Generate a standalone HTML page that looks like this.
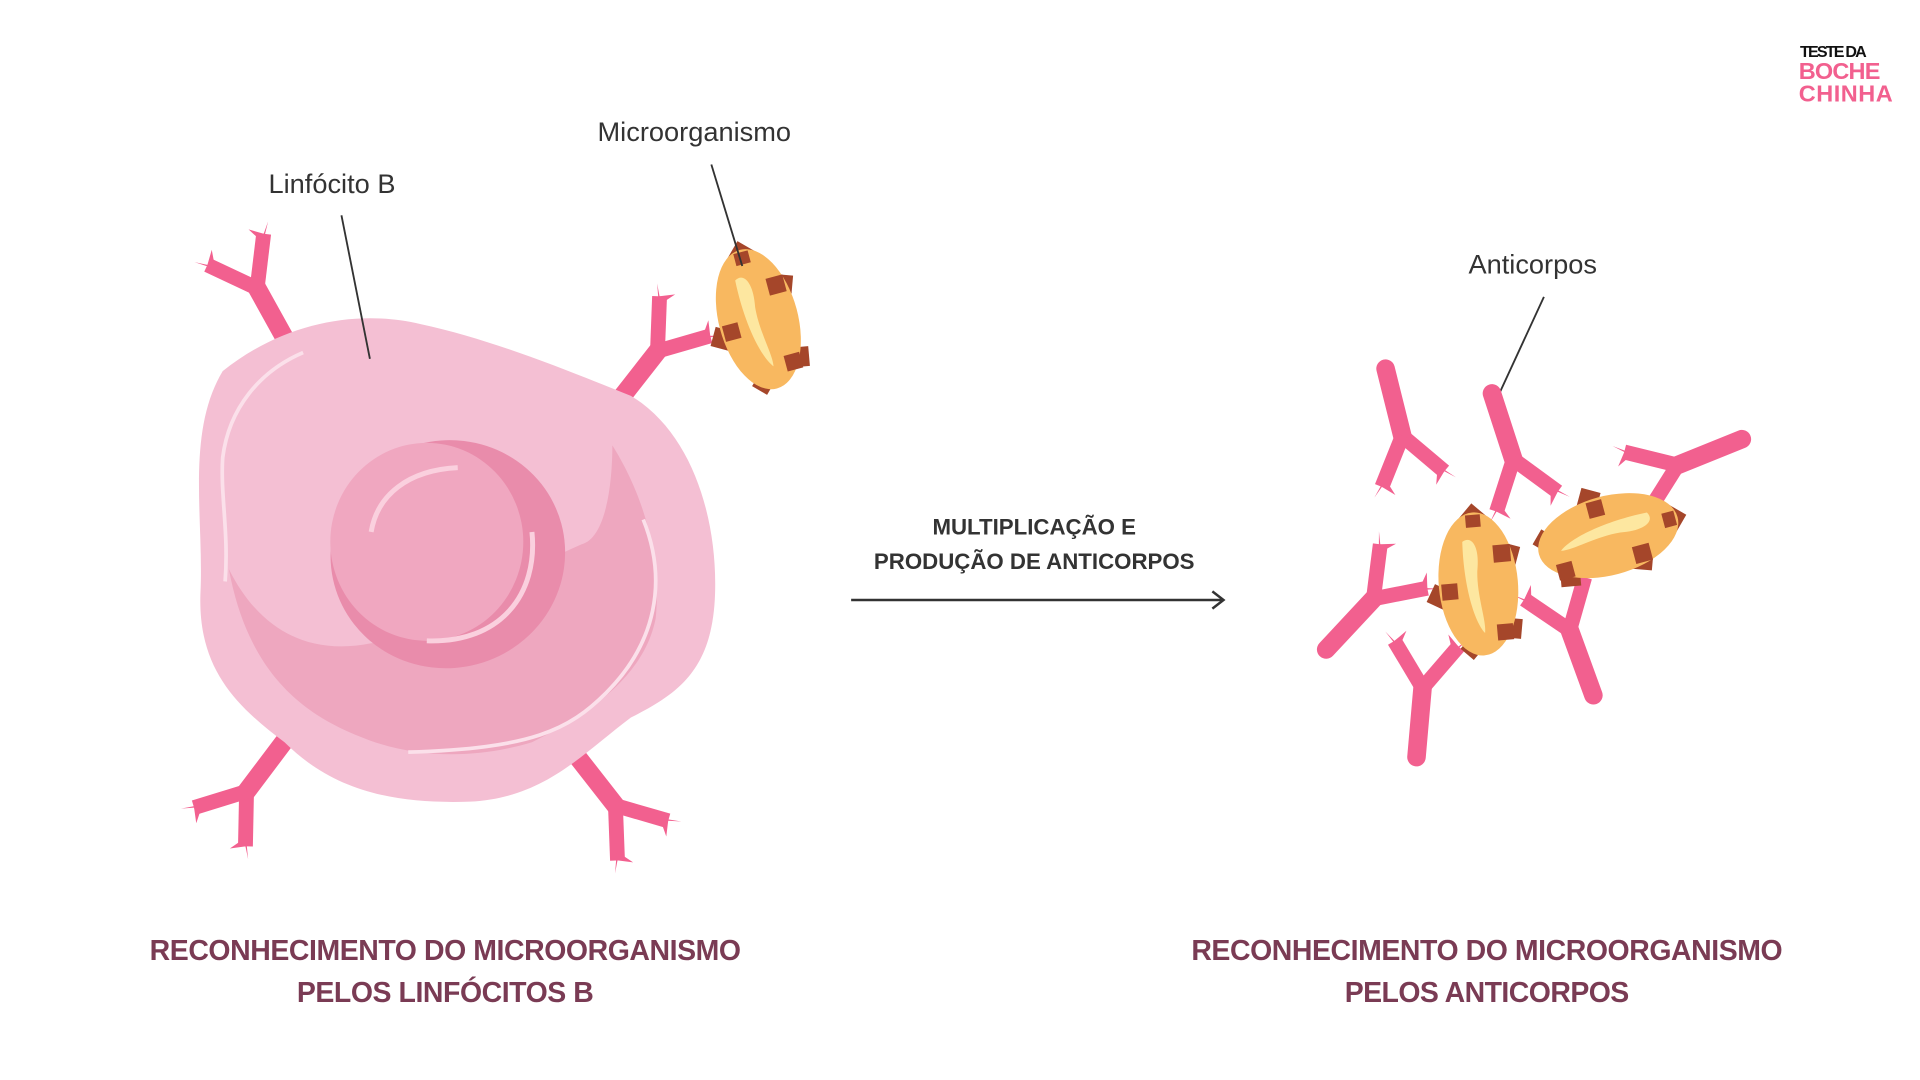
<!DOCTYPE html>
<html><head><meta charset="utf-8"><style>html,body{margin:0;padding:0;background:#fff}svg{display:block}</style></head>
<body>
<svg width="1920" height="1080" viewBox="0 0 1552 873" preserveAspectRatio="none" xmlns="http://www.w3.org/2000/svg" font-family="Liberation Sans, sans-serif">
<defs>
<g id="ab">
  <line x1="0" y1="0" x2="0" y2="-58" stroke="#f2608f" stroke-width="15" stroke-linecap="round"/>
  <line x1="0" y1="-56" x2="-26" y2="-92" stroke="#f2608f" stroke-width="12"/>
  <line x1="0" y1="-56" x2="26" y2="-92" stroke="#f2608f" stroke-width="12"/>
  <polygon points="-34,-99 -26,-92 -17,-101 -22,-86" fill="#f2608f"/>
  <polygon points="34,-99 26,-92 17,-101 22,-86" fill="#f2608f"/>
</g>
<g id="mic">
  <g fill="#a5462a">
    <rect x="-8" y="-62" width="16" height="16" transform="rotate(45 0 -54)"/>
    <rect x="18" y="-30" width="16" height="16" transform="rotate(20 26 -22)"/>
    <rect x="-40" y="0" width="16" height="16" transform="rotate(30 -32 8)"/>
    <rect x="16" y="30" width="16" height="16" transform="rotate(10 24 38)"/>
    <rect x="-16" y="44" width="14" height="14" transform="rotate(45 -9 51)"/>
  </g>
  <ellipse cx="0" cy="0" rx="32" ry="58" fill="#f8b860"/>
  <path d="M-10,-35 C-2,-40 4,-30 0,-10 C-2,10 4,30 2,40 C-6,30 -12,0 -10,-35Z" fill="#fde7a0"/>
  <g fill="#a5462a">
    <rect x="14" y="-30" width="14" height="14"/>
    <rect x="-30" y="-2" width="13" height="13"/>
    <rect x="12" y="34" width="13" height="13"/>
    <rect x="-6" y="-56" width="12" height="10"/>
  </g>
</g>
</defs>

<text x="1455" y="46" font-size="13" font-weight="bold" fill="#111" textLength="54">TESTE DA</text>
<text x="1454" y="64" font-size="19" font-weight="bold" fill="#f2608f" textLength="66">BOCHE</text>
<text x="1454" y="82" font-size="19" font-weight="bold" fill="#f2608f" textLength="76">CHINHA</text>

<use href="#ab" transform="translate(235,282) rotate(-29)"/>
<use href="#ab" transform="translate(497,328) rotate(38)"/>
<use href="#ab" transform="translate(233,595) rotate(217)"/>
<use href="#ab" transform="translate(463,607) rotate(142)"/>

<path d="M180,300 C230,260 290,250 340,262 C400,275 460,300 510,320 C560,350 580,420 578,480 C576,540 550,560 510,580 C470,610 440,645 380,648 C320,650 270,640 230,600 C190,570 160,540 162,480 C165,420 150,350 180,300Z" fill="#f4bfd3"/>
<path d="M185,460 C210,510 250,530 300,520 C350,515 400,470 470,440 C490,435 495,390 495,360 C520,400 535,450 530,500 C520,550 470,580 430,600 C380,615 330,612 290,595 C240,575 200,540 185,460Z" fill="#eea7bf"/>
<path d="M245,285 C210,300 185,330 180,370 C178,400 185,430 182,470" fill="none" stroke="#fbe0ea" stroke-width="3"/>
<path d="M520,420 C540,470 530,520 490,560 C460,590 430,605 330,608" fill="none" stroke="#fbe0ea" stroke-width="3"/>
<ellipse cx="362" cy="448" rx="95" ry="92" fill="#e98cab" transform="rotate(-15 362 448)"/>
<ellipse cx="345" cy="438" rx="78" ry="80" fill="#f0a7c0"/>
<path d="M300,430 C305,400 330,380 370,378" fill="none" stroke="#fad0de" stroke-width="4"/>
<path d="M430,430 C435,480 405,520 345,518" fill="none" stroke="#fad0de" stroke-width="4"/>

<use href="#mic" transform="translate(613,258) rotate(-15)"/>

<text x="217" y="156" font-size="22" fill="#333">Linfócito B</text>
<line x1="276" y1="174" x2="299" y2="290" stroke="#333" stroke-width="1.5"/>
<text x="483" y="114" font-size="22" fill="#333">Microorganismo</text>
<line x1="575" y1="133" x2="600" y2="215" stroke="#333" stroke-width="1.5"/>
<text x="1187" y="221" font-size="22" fill="#333">Anticorpos</text>
<line x1="1248" y1="240" x2="1212" y2="318" stroke="#333" stroke-width="1.5"/>

<text x="836" y="432" font-size="18" font-weight="bold" fill="#333" text-anchor="middle">MULTIPLICAÇÃO E</text>
<text x="836" y="460" font-size="18" font-weight="bold" fill="#333" text-anchor="middle">PRODUÇÃO DE ANTICORPOS</text>
<line x1="688" y1="485" x2="988" y2="485" stroke="#333" stroke-width="2"/>
<polyline points="980,478 989,485 980,492" fill="none" stroke="#333" stroke-width="2"/>

<use href="#ab" transform="translate(1120,298) rotate(166)"/>
<use href="#ab" transform="translate(1206,318) rotate(162)"/>
<use href="#ab" transform="translate(1408,355) rotate(-112)"/>
<use href="#ab" transform="translate(1072,525) rotate(43)"/>
<use href="#ab" transform="translate(1145,612) rotate(5)"/>
<use href="#ab" transform="translate(1288,562) rotate(-20)"/>
<use href="#mic" transform="translate(1195,472) rotate(-5)"/>
<use href="#mic" transform="translate(1300,433) rotate(75)"/>

<g font-size="23" font-weight="bold" fill="#7a3b54" text-anchor="middle">
<text x="360" y="776" textLength="478">RECONHECIMENTO DO MICROORGANISMO</text>
<text x="360" y="810" textLength="240">PELOS LINFÓCITOS B</text>
<text x="1202" y="776" textLength="478">RECONHECIMENTO DO MICROORGANISMO</text>
<text x="1202" y="810" textLength="230">PELOS ANTICORPOS</text>
</g>
</svg>
</body></html>
